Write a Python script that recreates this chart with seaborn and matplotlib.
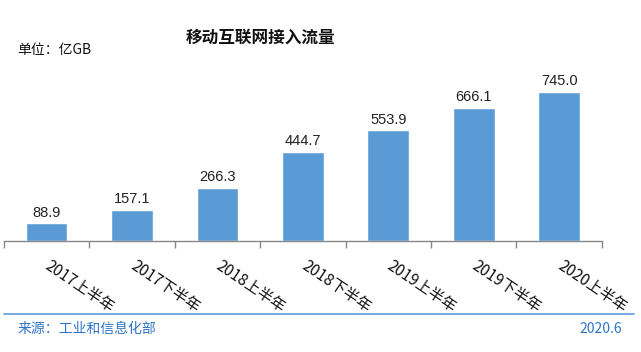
import pandas as pd
import numpy as np
import matplotlib.pyplot as plt
import matplotlib.transforms as mtrans
import seaborn as sns
from matplotlib.lines import Line2D

periods = ["2017上半年", "2017下半年", "2018上半年", "2018下半年",
           "2019上半年", "2019下半年", "2020上半年"]
traffic = [88.9, 157.1, 266.3, 444.7, 553.9, 666.1, 745.0]

df = pd.DataFrame({"Period": periods, "Traffic": traffic})

sns.set_theme(style="white")
plt.rcParams["font.family"] = ["Noto Sans CJK SC", "DejaVu Sans"]

fig = plt.figure(figsize=(6.41, 3.52), dpi=100)
ax = fig.add_axes([0.006, 1 - 241 / 352, 0.933, 0.455])

sns.barplot(data=df, x="Period", y="Traffic", color="#5B9BD5",
            width=0.49, saturation=1, ax=ax)

for i, v in enumerate(traffic):
    ax.text(i, v + 18, f"{v:.1f}", ha="center", va="bottom", fontsize=10.5,
            family=["Liberation Sans", "DejaVu Sans"], color="#222222")

ax.set_ylim(0, 800)
ax.set_xlim(-0.5, len(periods) - 0.5)
ax.set_xlabel("")
ax.set_ylabel("")
ax.set_yticks([])
for s in ["top", "left", "right"]:
    ax.spines[s].set_visible(False)
ax.spines["bottom"].set_color("#888888")
ax.spines["bottom"].set_linewidth(1)

# category boundary ticks
ax.set_xticks(np.arange(-0.5, len(periods), 1.0))
ax.set_xticklabels([])
ax.tick_params(axis="x", which="major", direction="out", length=5,
               color="#888888", width=1, bottom=True)
ax.set_xticks(np.arange(len(periods)), minor=True)
ax.set_xticklabels(periods, minor=True, rotation=-34, ha="left", va="top",
                   rotation_mode="anchor", fontsize=11, color="#111111")
ax.tick_params(axis="x", which="minor", length=0, pad=12)

offset = mtrans.ScaledTranslation(5 / 100, 0, fig.dpi_scale_trans)
for lbl in ax.get_xticklabels(minor=True):
    lbl.set_transform(lbl.get_transform() + offset)

fig.text(0.406, 0.893, "移动互联网接入流量", ha="center", va="center",
         fontsize=12, fontweight="bold", color="#111111")
fig.text(0.027, 0.858, "单位：亿GB", ha="left", va="center",
         fontsize=10, color="#111111")

fig.add_artist(Line2D([4 / 641, 634 / 641], [1 - 314 / 352, 1 - 314 / 352],
                      color="#5B9BD5", linewidth=1.2))
fig.text(0.027, 1 - 329 / 352, "来源：工业和信息化部", ha="left", va="center",
         fontsize=10, color="#2E75C8")
fig.text(622 / 641, 1 - 329 / 352, "2020.6", ha="right", va="center",
         fontsize=10, color="#2E75C8")

fig.savefig("out.png", dpi=100)
